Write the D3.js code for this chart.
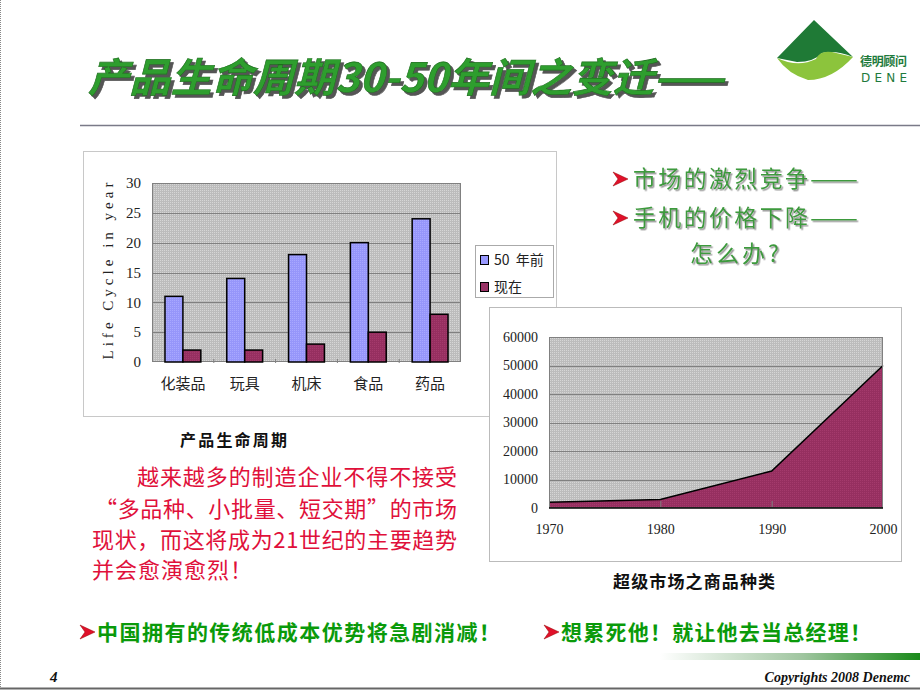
<!DOCTYPE html>
<html><head><meta charset="utf-8">
<script src="https://cdn.jsdelivr.net/npm/d3@7"></script>
<style>
html,body{margin:0;padding:0;background:#fff;}
svg{display:block;}
</style></head>
<body>
<svg id="c" width="920" height="690"></svg>
<script>
// ---- data ----
const categories = ["化装品","玩具","机床","食品","药品"];
const before50 = [11,14,18,20,24];
const nowVals = [2,2,3,5,8];
const seriesNames = ["50 年前","现在"];
const barTicks = [0,5,10,15,20,25,30];
const years = [1970,1980,1990,2000];
const productCounts = [2000,3000,13000,50000];
const areaTicks = [0,10000,20000,30000,40000,50000,60000];

const svg = d3.select("#c");
const CJK = "'Noto Sans CJK SC','Noto Sans',sans-serif";
const SERIF = "'Liberation Serif','DejaVu Serif',serif";

// patterns (dither look)
const defs = svg.append("defs");
function dither(id, base, dot){
  const p = defs.append("pattern").attr("id",id).attr("width",2).attr("height",2).attr("patternUnits","userSpaceOnUse");
  p.append("rect").attr("width",2).attr("height",2).attr("fill",base);
  p.append("rect").attr("width",1).attr("height",1).attr("fill",dot);
}
dither("gbg","#bcbcbc","#d6d6d6");
dither("blu","#9696fa","#a8a8ff");
dither("red","#962f60","#a43a6c");
const gr = defs.append("linearGradient").attr("id","fg").attr("x1",0).attr("x2",1);
gr.append("stop").attr("offset",0).attr("stop-color","#ffffff");
gr.append("stop").attr("offset",0.55).attr("stop-color","#9fc59f");
gr.append("stop").attr("offset",1).attr("stop-color","#1a8a1a");
function shadow(id, dx, dy, col){
  const f = defs.append("filter").attr("id",id).attr("x","-5%").attr("y","-20%").attr("width","115%").attr("height","150%");
  f.append("feDropShadow").attr("dx",dx).attr("dy",dy).attr("stdDeviation",0.3).attr("flood-color",col).attr("flood-opacity",1);
}
shadow("sh1",3,3,"#555");
shadow("sh2",1.5,1.5,"#999");

// slide borders
svg.append("line").attr("x1",0.5).attr("x2",0.5).attr("y1",0).attr("y2",690).attr("stroke","#888").attr("stroke-dasharray","1,1");
svg.append("line").attr("x1",0).attr("x2",920).attr("y1",688.5).attr("y2",688.5).attr("stroke","#666").attr("stroke-width",2);

// ---- title ----
const title = "产品生命周期30-50年间之变迁——";
svg.append("text").attr("x",88).attr("y",92).attr("font-family",CJK).attr("font-weight",700)
  .attr("font-size",40).attr("font-style","italic").attr("fill","#2f9e2f").attr("stroke","#1d6e1d").attr("stroke-width",0.6)
  .attr("filter","url(#sh1)")
  .attr("textLength",636).attr("lengthAdjust","spacingAndGlyphs").text(title);
svg.append("line").attr("x1",80).attr("x2",920).attr("y1",125.5).attr("y2",125.5).attr("stroke","#7a7a88").attr("stroke-width",1.5);

// ---- logo ----
svg.append("path").attr("d","M814,20 L853,57 Q836,50 822,53 Q814,62 797,62 L777,58 Z").attr("fill","#1f7a36");
svg.append("path").attr("d","M777,58 Q798,68 816,59 Q820,50 832,52 L853,57 Q832,80 808,80 Q788,74 777,58 Z").attr("fill","#8cc43c");
svg.append("text").attr("x",860).attr("y",66).attr("font-family",CJK).attr("font-weight",700).attr("font-size",12)
  .attr("fill","#1e7a3c").attr("textLength",47).text("德明顾问");
svg.append("text").attr("x",861).attr("y",82).attr("font-family","'DejaVu Sans',sans-serif").attr("font-size",12)
  .attr("fill","#1e7a3c").attr("textLength",46).text("DENE");

// ---- bar chart ----
svg.append("rect").attr("x",83.5).attr("y",151.5).attr("width",473).attr("height",265)
  .attr("fill","#fff").attr("stroke","#c8c8c8");
const bx0 = 152, bx1 = 461, by0 = 362, by1 = 183;
const xb = d3.scaleBand().domain(categories).range([bx0,bx1]).paddingInner(0.42).paddingOuter(0.21);
const xs = d3.scaleBand().domain(seriesNames).range([0,xb.bandwidth()]);
const yb = d3.scaleLinear().domain([0,30]).range([by0,by1]);
svg.append("rect").attr("x",bx0).attr("y",by1).attr("width",bx1-bx0).attr("height",by0-by1).attr("fill","url(#gbg)");
svg.append("g").selectAll("line").data(barTicks.slice(1)).join("line")
  .attr("x1",bx0).attr("x2",bx1).attr("y1",d=>Math.round(yb(d))+0.5).attr("y2",d=>Math.round(yb(d))+0.5)
  .attr("stroke","#808080").attr("stroke-width",1);
svg.append("rect").attr("x",bx0+0.5).attr("y",by1+0.5).attr("width",bx1-bx0-1).attr("height",by0-by1-1)
  .attr("fill","none").attr("stroke","#808080");
const yAxB = svg.append("g").attr("transform",`translate(${bx0},0)`).call(d3.axisLeft(yb).tickValues(barTicks).tickSize(0).tickPadding(11));
yAxB.select(".domain").remove();
yAxB.selectAll("text").attr("font-family",SERIF).attr("font-size",15).attr("fill","#222");
const xAxB = svg.append("g").attr("transform",`translate(0,${by0})`).call(d3.axisBottom(xb).tickSize(0).tickPadding(16));
xAxB.select(".domain").remove();
xAxB.selectAll("text").attr("font-family",CJK).attr("font-size",15).attr("fill","#222");
// category tick marks
const step = xb.step();
svg.append("g").selectAll("line").data(d3.range(1,categories.length)).join("line")
  .attr("x1",d=>bx0+d*step).attr("x2",d=>bx0+d*step).attr("y1",by0-3).attr("y2",by0+1).attr("stroke","#808080");
const rows = categories.map((c,i)=>({c, v:[before50[i], nowVals[i]]}));
const gb = svg.append("g");
rows.forEach(r=>{
  r.v.forEach((v,j)=>{
    gb.append("rect").attr("x",xb(r.c)+xs(seriesNames[j])).attr("y",yb(v))
      .attr("width",xs.bandwidth()).attr("height",yb(0)-yb(v))
      .attr("fill",j===0?"url(#blu)":"url(#red)").attr("stroke","#000").attr("stroke-width",1.5);
  });
});
svg.append("text").attr("transform","translate(113,271) rotate(-90)").attr("text-anchor","middle")
  .attr("font-family",SERIF).attr("font-size",15).attr("fill","#222")
  .attr("textLength",177).attr("lengthAdjust","spacing").text("Life Cycle in year");
// legend
svg.append("rect").attr("x",475.5).attr("y",245.5).attr("width",78).attr("height",52).attr("fill","#fff").attr("stroke","#aaa");
seriesNames.forEach((s,j)=>{
  const cy = 260 + j*27;
  svg.append("rect").attr("x",480.5).attr("y",cy-4.5).attr("width",8).attr("height",9)
    .attr("fill",j===0?"#9999ff":"#993366").attr("stroke","#000");
  svg.append("text").attr("x",494).attr("y",cy).attr("dy","0.36em").attr("font-family",CJK).attr("font-size",14)
    .attr("fill","#222").attr("xml:space","preserve").style("white-space","pre").text(j===0?"50  年前":s);
});
svg.append("text").attr("x",180).attr("y",446).attr("font-family",CJK).attr("font-weight",700).attr("font-size",16)
  .attr("fill","#111").attr("textLength",107).text("产品生命周期");

// ---- area chart ----
svg.append("rect").attr("x",489.5).attr("y",307.5).attr("width",412).attr("height",254)
  .attr("fill","#fff").attr("stroke","#bbb");
const ax0 = 549, ax1 = 883, ay0 = 508, ay1 = 337;
const xa = d3.scaleLinear().domain([1970,2000]).range([ax0,ax1]);
const ya = d3.scaleLinear().domain([0,60000]).range([ay0,ay1]);
svg.append("rect").attr("x",ax0).attr("y",ay1).attr("width",ax1-ax0).attr("height",ay0-ay1).attr("fill","url(#gbg)");
svg.append("g").selectAll("line").data(areaTicks.slice(1)).join("line")
  .attr("x1",ax0).attr("x2",ax1).attr("y1",d=>Math.round(ya(d))+0.5).attr("y2",d=>Math.round(ya(d))+0.5)
  .attr("stroke","#808080");
const pts = years.map((y,i)=>({y, v:productCounts[i]}));
svg.append("path").datum(pts).attr("fill","url(#red)")
  .attr("d",d3.area().x(d=>xa(d.y)).y0(ya(0)).y1(d=>ya(d.v)));
svg.append("path").datum(pts).attr("fill","none").attr("stroke","#000").attr("stroke-width",1.5)
  .attr("d",d3.line().x(d=>xa(d.y)).y(d=>ya(d.v)));
svg.append("g").selectAll("line").data(years.slice(1,-1)).join("line")
  .attr("x1",d=>xa(d)+0.5).attr("x2",d=>xa(d)+0.5).attr("y1",ay0-7).attr("y2",ay0).attr("stroke","#808080");
svg.append("rect").attr("x",ax0+0.5).attr("y",ay1+0.5).attr("width",ax1-ax0-1).attr("height",ay0-ay1-1)
  .attr("fill","none").attr("stroke","#808080");
svg.append("line").attr("x1",ax0).attr("x2",ax1).attr("y1",ay0).attr("y2",ay0).attr("stroke","#000").attr("stroke-width",1.5);
const yAxA = svg.append("g").attr("transform",`translate(${ax0},0)`).call(d3.axisLeft(ya).tickValues(areaTicks).tickFormat(d3.format("d")).tickSize(0).tickPadding(11));
yAxA.select(".domain").remove();
yAxA.selectAll("text").attr("font-family",SERIF).attr("font-size",14).attr("fill","#222");
const xAxA = svg.append("g").attr("transform",`translate(0,${ay0})`).call(d3.axisBottom(xa).tickValues(years).tickFormat(d3.format("d")).tickSize(0).tickPadding(16));
xAxA.select(".domain").remove();
xAxA.selectAll("text").attr("font-family",SERIF).attr("font-size",14).attr("fill","#222");
svg.append("text").attr("x",613).attr("y",588).attr("font-family",CJK).attr("font-weight",700).attr("font-size",17)
  .attr("fill","#111").attr("textLength",162).text("超级市场之商品种类");

// ---- bullets helper ----
function bullet(x, cy, s){
  s = s||1;
  svg.append("path").attr("d",`M${x},${cy-7*s} L${x+15*s},${cy} L${x},${cy+7*s} L${x+5*s},${cy} Z`)
    .attr("fill","#e0102a").attr("stroke","#900").attr("stroke-width",0.5);
}

// ---- right green texts ----
const rightLines = [
  {t:"市场的激烈竞争", x:633, y:187, w:175, dash:true, b:true},
  {t:"手机的价格下降", x:633, y:226, w:175, dash:true, b:true},
  {t:"怎么办?", x:690, y:262, w:89, dash:false, b:false}
];
rightLines.forEach(l=>{
  if(l.b) bullet(613, l.y-8);
  svg.append("text").attr("x",l.x).attr("y",l.y).attr("font-family",CJK).attr("font-size",23)
    .attr("fill","#3c9a3c").attr("filter","url(#sh2)").attr("textLength",l.w).text(l.t);
  if(l.dash){
    svg.append("text").attr("x",l.x+l.w+2).attr("y",l.y).attr("font-family",CJK).attr("font-size",23)
      .attr("fill","#3c9a3c").attr("filter","url(#sh2)").attr("textLength",48).attr("lengthAdjust","spacingAndGlyphs").text("——");
  }
});

// ---- red paragraph ----
const para = [
  {t:"越来越多的制造企业不得不接受", x:137, y:485, w:320},
  {t:"“多品种、小批量、短交期”的市场", x:95, y:517, w:362},
  {t:"现状，而这将成为21世纪的主要趋势", x:92, y:548, w:365},
  {t:"并会愈演愈烈！", x:92, y:578, w:null}
];
para.forEach(p=>{
  const t = svg.append("text").attr("x",p.x).attr("y",p.y).attr("font-family",CJK).attr("font-size",22)
    .attr("fill","#e0103a").text(p.t);
  if(p.w) t.attr("textLength",p.w).attr("lengthAdjust","spacing");
  else t.attr("letter-spacing",1);
});

// ---- bottom green texts ----
bullet(80, 632);
svg.append("text").attr("x",97).attr("y",640).attr("font-family",CJK).attr("font-weight",700).attr("font-size",21)
  .attr("fill","#0a9a0a").attr("textLength",403).text("中国拥有的传统低成本优势将急剧消减！");
bullet(544, 632);
svg.append("text").attr("x",561).attr("y",640).attr("font-family",CJK).attr("font-weight",700).attr("font-size",21)
  .attr("fill","#0a9a0a").attr("textLength",310).text("想累死他！就让他去当总经理！");

// ---- footer ----
svg.append("rect").attr("x",660).attr("y",653).attr("width",260).attr("height",7).attr("fill","url(#fg)");
svg.append("text").attr("x",50).attr("y",682).attr("font-family",SERIF).attr("font-weight",700).attr("font-style","italic")
  .attr("font-size",15).attr("fill","#111").text("4");
svg.append("text").attr("x",910).attr("y",682).attr("text-anchor","end").attr("font-family",SERIF).attr("font-weight",700).attr("font-style","italic")
  .attr("font-size",14).attr("fill","#111").text("Copyrights 2008 Denemc");
</script>
</body></html>
